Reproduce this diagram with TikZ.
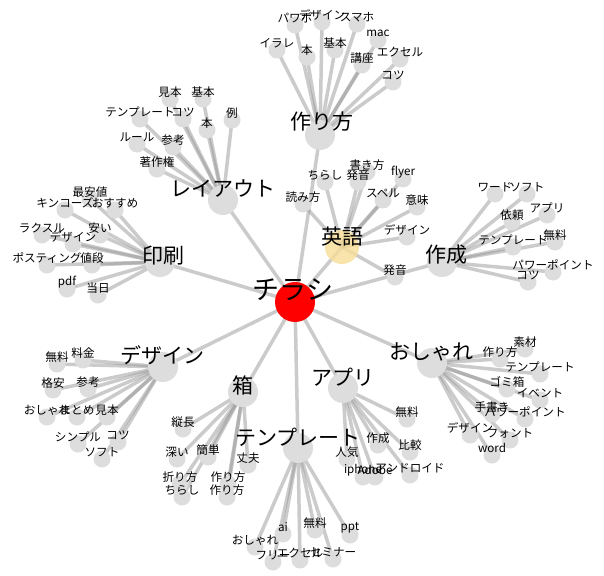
\documentclass[tikz,border=0pt]{standalone}
\usepackage{fontspec}
\setmainfont{Noto Sans CJK JP}
\pgfdeclarelayer{bgw}
\pgfdeclarelayer{edges}
\pgfdeclarelayer{labels}
\pgfsetlayers{bgw,edges,main,labels}
\definecolor{nodegray}{HTML}{DDDDDD}
\definecolor{edgegray}{HTML}{999999}
\definecolor{engyellow}{HTML}{F8DE98}
\tikzset{
  hubnode/.style={circle, fill=nodegray, minimum size=30pt, inner sep=0pt},
  leafnode/.style={circle, fill=nodegray, minimum size=17pt, inner sep=0pt},
  edgeline/.style={draw=edgegray, line width=3.5pt, draw opacity=0.5},
  leaflbl/.style={inner sep=0pt, font=\fontsize{11.6}{12}\selectfont},
  hublbl/.style={inner sep=0pt, font=\fontsize{21}{22}\selectfont},
  rootlbl/.style={inner sep=0pt, font=\fontsize{27}{28}\selectfont},
}
% leaf: id, text x, text y, text, parent
\newcommand{\lf}[5]{%
  \node[leafnode] (#1) at (#2,#3+7) {};
  \begin{pgfonlayer}{labels}\node[leaflbl] (#1t) at (#2,#3) {#4};\end{pgfonlayer}
  \begin{pgfonlayer}{edges}\draw[edgeline] (#5.center) -- (#1.center);\end{pgfonlayer}
}
% hub: id, circle x, circle y, text x, text y, text
\newcommand{\hb}[6]{%
  \node[hubnode] (#1) at (#2,#3) {};
  \begin{pgfonlayer}{labels}\node[hublbl] (#1t) at (#4,#5) {#6};\end{pgfonlayer}
  \begin{pgfonlayer}{edges}\draw[edgeline] (root.center) -- (#1.center);\end{pgfonlayer}
}
\begin{document}
\begin{tikzpicture}[x=1pt,y=-1pt]
\begin{pgfonlayer}{bgw}
\fill[white] (0,0) rectangle (604,575);
\end{pgfonlayer}
\useasboundingbox (0,0) rectangle (604,575);

% root
\node[circle, fill=red, minimum size=40pt, inner sep=0pt] (root) at (295,302) {};
\begin{pgfonlayer}{labels}\node[rootlbl] (roott) at (293,290) {チラシ};\end{pgfonlayer}

% hubs
\hb{h1}{320}{135}{322}{122}{作り方}
\hb{h2}{223}{200}{223}{188}{レイアウト}
\node[circle, fill=engyellow, fill opacity=0.8, minimum size=34pt, inner sep=0pt] (h3) at (342,247) {};
\begin{pgfonlayer}{labels}\node[hublbl] (h3t) at (342,237) {英語};\end{pgfonlayer}
\begin{pgfonlayer}{edges}\draw[edgeline] (root.center) -- (h3.center);\end{pgfonlayer}
\hb{h4}{442}{262}{446}{255}{作成}
\hb{h5}{160}{262}{163}{256}{印刷}
\hb{h6}{163}{367}{162}{355}{デザイン}
\hb{h7}{432}{363}{431}{352}{おしゃれ}
\hb{h8}{343}{388}{343}{377}{アプリ}
\hb{h9}{243}{392}{243}{385}{箱}
\hb{h10}{298}{448}{298}{437}{テンプレート}

% 作り方
\lf{a1}{295}{18}{パワポ}{h1}
\lf{a2}{322}{15}{デザイン}{h1}
\lf{a3}{357}{17}{スマホ}{h1}
\lf{a4}{277}{43}{イラレ}{h1}
\lf{a5}{307}{50}{本}{h1}
\lf{a6}{335}{43}{基本}{h1}
\lf{a7}{378}{33}{mac}{h1}
\lf{a8}{362}{58}{講座}{h1}
\lf{a9}{400}{52}{エクセル}{h1}
\lf{a10}{393}{75}{コツ}{h1}

% レイアウト
\lf{b1}{170}{92}{見本}{h2}
\lf{b2}{203}{92}{基本}{h2}
\lf{b3}{140}{112}{テンプレート}{h2}
\lf{b4}{183}{112}{コツ}{h2}
\lf{b5}{207}{123}{本}{h2}
\lf{b6}{232}{113}{例}{h2}
\lf{b7}{137}{137}{ルール}{h2}
\lf{b8}{173}{140}{参考}{h2}
\lf{b9}{157}{162}{著作権}{h2}

% 英語
\lf{c1}{325}{175}{ちらし}{h3}
\lf{c2}{358}{175}{発音}{h3}
\lf{c3}{367}{165}{書き方}{h3}
\lf{c4}{403}{172}{flyer}{h3}
\lf{c5}{303}{197}{読み方}{h3}
\lf{c6}{383}{193}{スペル}{h3}
\lf{c7}{417}{200}{意味}{h3}
\lf{c8}{407}{230}{デザイン}{h3}
\lf{c9}{395}{270}{発音}{h3}

% 作成
\lf{d1}{495}{187}{ワード}{h4}
\lf{d2}{527}{187}{ソフト}{h4}
\lf{d3}{512}{215}{依頼}{h4}
\lf{d4}{547}{208}{アプリ}{h4}
\lf{d5}{513}{240}{テンプレート}{h4}
\lf{d6}{555}{235}{無料}{h4}
\lf{d7}{553}{265}{パワーポイント}{h4}
\lf{d8}{528}{275}{コツ}{h4}

% 印刷
\lf{e1}{90}{192}{最安値}{h5}
\lf{e2}{65}{203}{キンコーズ}{h5}
\lf{e3}{115}{203}{おすすめ}{h5}
\lf{e4}{42}{228}{ラクスル}{h5}
\lf{e5}{100}{228}{安い}{h5}
\lf{e6}{73}{237}{デザイン}{h5}
\lf{e7}{47}{258}{ポスティング}{h5}
\lf{e8}{92}{258}{値段}{h5}
\lf{e9}{67}{282}{pdf}{h5}
\lf{e10}{98}{288}{当日}{h5}

% デザイン
\lf{f1}{57}{357}{無料}{h6}
\lf{f2}{83}{353}{料金}{h6}
\lf{f3}{53}{383}{格安}{h6}
\lf{f4}{88}{382}{参考}{h6}
\lf{f5}{47}{410}{おしゃれ}{h6}
\lf{f6}{77}{410}{まとめ}{h6}
\lf{f7}{107}{410}{見本}{h6}
\lf{f8}{78}{437}{シンプル}{h6}
\lf{f9}{118}{435}{コツ}{h6}
\lf{f10}{102}{452}{ソフト}{h6}

% 箱
\lf{g1}{183}{422}{縦長}{h9}
\lf{g2}{177}{452}{深い}{h9}
\lf{g3}{208}{450}{簡単}{h9}
\lf{g4}{248}{458}{丈夫}{h9}
\lf{g5}{180}{477}{折り方}{h9}
\lf{g6}{228}{477}{作り方}{h9}
\lf{g7}{182}{490}{ちらし}{h9}
\lf{g8}{227}{490}{作り方}{h9}

% テンプレート
\lf{k1}{283}{527}{ai}{h10}
\lf{k2}{315}{523}{無料}{h10}
\lf{k3}{350}{528}{ppt}{h10}
\lf{k4}{255}{540}{おしゃれ}{h10}
\lf{k5}{273}{555}{フリー}{h10}
\lf{k6}{300}{553}{エクセル}{h10}
\lf{k7}{333}{552}{セミナー}{h10}

% アプリ
\lf{m1}{407}{412}{無料}{h8}
\lf{m2}{378}{438}{作成}{h8}
\lf{m3}{410}{445}{比較}{h8}
\lf{m4}{347}{452}{人気}{h8}
\lf{m5}{363}{470}{iphone}{h8}
\lf{m6}{375}{470}{Adobe}{h8}
\lf{m7}{410}{468}{アンドロイド}{h8}

% おしゃれ
\lf{n1}{500}{352}{作り方}{h7}
\lf{n2}{525}{342}{素材}{h7}
\lf{n3}{540}{367}{テンプレート}{h7}
\lf{n4}{507}{382}{ゴミ箱}{h7}
\lf{n5}{540}{393}{イベント}{h7}
\lf{n6}{492}{407}{手書き}{h7}
\lf{n7}{525}{412}{パワーポイント}{h7}
\lf{n8}{470}{428}{デザイン}{h7}
\lf{n9}{510}{433}{フォント}{h7}
\lf{n10}{492}{448}{word}{h7}
\end{tikzpicture}
\end{document}
